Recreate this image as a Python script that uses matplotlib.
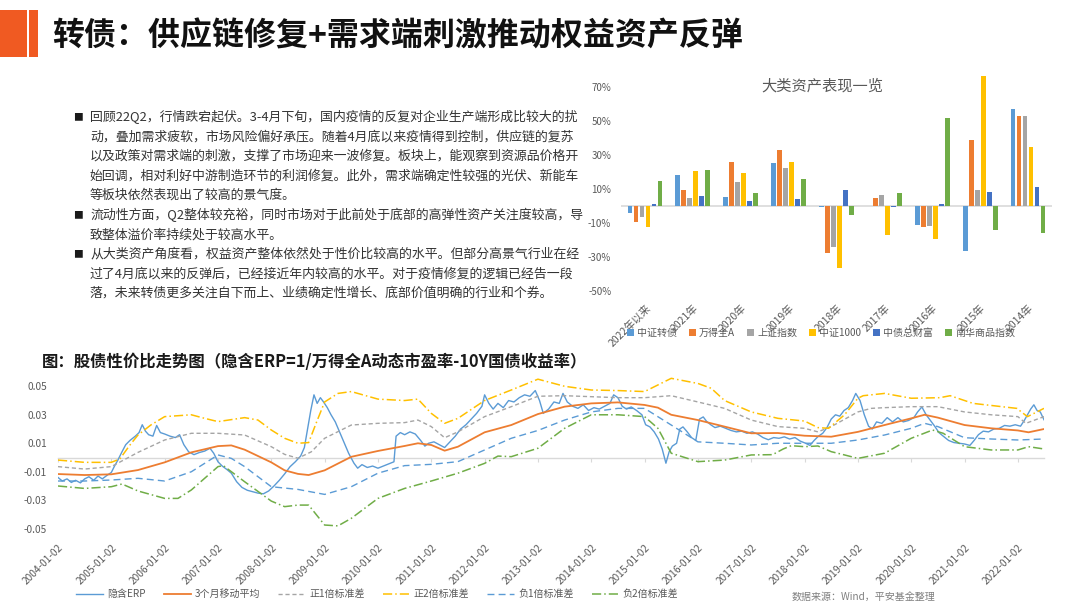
import numpy as np
import matplotlib
matplotlib.use("Agg")
import matplotlib.pyplot as plt
from matplotlib.patches import Rectangle
from matplotlib.lines import Line2D

plt.rcParams['font.family'] = ['Noto Sans CJK SC', 'DejaVu Sans']
plt.rcParams['axes.unicode_minus'] = False

W, H = 1080, 608

# ---------------- data: bar chart (returns, %) ----------------
years = ["2022年以来", "2021年", "2020年", "2019年", "2018年", "2017年", "2016年", "2015年", "2014年"]
assets = ["中证转债", "万得全A", "上证指数", "中证1000", "中债总财富", "南华商品指数"]
zz_cb = [-4.3, 18.2, 5.5, 25.3, -0.8, -0.2, -11.4, -26.5, 56.9]
wind_a = [-9.6, 9.6, 25.9, 32.9, -27.6, 4.9, -12.5, 38.6, 52.7]
sh_idx = [-6.5, 4.9, 14.1, 22.4, -24.1, 6.7, -12.0, 9.6, 52.7]
zz1000 = [-12.4, 20.6, 19.4, 25.9, -36.5, -17.1, -19.6, 76.3, 34.7]
cb_wealth = [1.4, 6.1, 3.1, 4.3, 9.6, -0.8, 1.4, 8.4, 11.4]
nh_comm = [14.7, 21.2, 7.6, 15.9, -5.5, 7.6, 51.6, -14.3, -16.1]
bar_colors = ["#5B9BD5", "#ED7D31", "#A5A5A5", "#FFC000", "#4472C4", "#70AD47"]
bar_ticks = [-50, -30, -10, 10, 30, 50, 70]

# ---------------- data: ERP chart (decimal year, value) ----------------
erp_t = [2004.00, 2004.08, 2004.17, 2004.25, 2004.33, 2004.42, 2004.50, 2004.58, 2004.67, 2004.75,
         2004.83, 2004.92, 2005.00, 2005.06, 2005.12, 2005.20, 2005.27, 2005.35, 2005.45, 2005.52,
         2005.58, 2005.64, 2005.70, 2005.78, 2005.85, 2005.92, 2006.00, 2006.10, 2006.20, 2006.28,
         2006.36, 2006.45, 2006.55, 2006.65, 2006.75, 2006.85, 2006.92, 2007.00, 2007.08, 2007.17,
         2007.25, 2007.35, 2007.45, 2007.55, 2007.65, 2007.75, 2007.85, 2007.95, 2008.05, 2008.15,
         2008.25, 2008.35, 2008.45, 2008.55, 2008.62, 2008.68, 2008.74, 2008.80, 2008.86, 2008.92,
         2008.98, 2009.05, 2009.12, 2009.20, 2009.28, 2009.36, 2009.45, 2009.55, 2009.62, 2009.70,
         2009.80, 2009.90, 2010.00, 2010.10, 2010.20, 2010.30, 2010.34, 2010.42, 2010.50, 2010.60,
         2010.70, 2010.80, 2010.88, 2010.95, 2011.05, 2011.15, 2011.25, 2011.35, 2011.45, 2011.55,
         2011.65, 2011.75, 2011.85, 2011.95, 2012.00, 2012.08, 2012.16, 2012.25, 2012.35, 2012.45,
         2012.55, 2012.65, 2012.75, 2012.85, 2012.95, 2013.03, 2013.10, 2013.20, 2013.30, 2013.40,
         2013.47, 2013.55, 2013.65, 2013.75, 2013.85, 2013.95, 2014.05, 2014.15, 2014.25, 2014.35,
         2014.42, 2014.50, 2014.58, 2014.66, 2014.75, 2014.85, 2014.95, 2015.02, 2015.10, 2015.18,
         2015.26, 2015.33, 2015.40, 2015.46, 2015.52, 2015.60, 2015.66, 2015.72, 2015.80, 2015.88,
         2015.96, 2016.03, 2016.10, 2016.16, 2016.24, 2016.32, 2016.42, 2016.52, 2016.62, 2016.72,
         2016.82, 2016.92, 2017.02, 2017.12, 2017.22, 2017.32, 2017.42, 2017.52, 2017.62, 2017.72,
         2017.82, 2017.92, 2018.02, 2018.10, 2018.18, 2018.26, 2018.34, 2018.42, 2018.50, 2018.58,
         2018.66, 2018.74, 2018.82, 2018.90, 2018.96, 2019.04, 2019.12, 2019.20, 2019.27, 2019.35,
         2019.45, 2019.55, 2019.65, 2019.75, 2019.85, 2019.95, 2020.05, 2020.12, 2020.20, 2020.28,
         2020.36, 2020.44, 2020.52, 2020.60, 2020.70, 2020.80, 2020.90, 2021.00, 2021.10, 2021.18,
         2021.26, 2021.35, 2021.45, 2021.55, 2021.65, 2021.75, 2021.85, 2021.95, 2022.05, 2022.12,
         2022.18, 2022.24, 2022.30, 2022.36, 2022.42, 2022.49]
erp_v = [-0.0140, -0.0165, -0.0150, -0.0175, -0.0160, -0.0178, -0.0150, -0.0135, -0.0160, -0.0130,
         -0.0150, -0.0125, -0.0105, -0.0060, -0.0020, 0.0040, 0.0090, 0.0120, 0.0150, 0.0175,
         0.0230, 0.0185, 0.0160, 0.0150, 0.0225, 0.0175, 0.0165, 0.0150, 0.0140, 0.0160,
         0.0090, 0.0040, 0.0020, 0.0035, 0.0045, 0.0065, 0.0030, -0.0030, -0.0060, -0.0085,
         -0.0110, -0.0170, -0.0210, -0.0230, -0.0240, -0.0250, -0.0255, -0.0235, -0.0200, -0.0160,
         -0.0115, -0.0065, -0.0030, 0.0010, 0.0070, 0.0200, 0.0330, 0.0440, 0.0380, 0.0420,
         0.0390, 0.0350, 0.0300, 0.0250, 0.0180, 0.0110, 0.0030, -0.0040, -0.0075, -0.0050,
         -0.0070, -0.0060, -0.0075, -0.0060, -0.0045, -0.0030, 0.0150, 0.0175, 0.0160, 0.0180,
         0.0165, 0.0120, 0.0080, 0.0100, 0.0110, 0.0090, 0.0070, 0.0110, 0.0150, 0.0200,
         0.0230, 0.0270, 0.0310, 0.0360, 0.0440, 0.0380, 0.0340, 0.0380, 0.0350, 0.0400,
         0.0390, 0.0420, 0.0440, 0.0430, 0.0470, 0.0400, 0.0310, 0.0340, 0.0390, 0.0380,
         0.0450, 0.0390, 0.0360, 0.0345, 0.0370, 0.0330, 0.0350, 0.0340, 0.0360, 0.0380,
         0.0440, 0.0420, 0.0360, 0.0340, 0.0355, 0.0330, 0.0300, 0.0230, 0.0215, 0.0180,
         0.0130, 0.0060, -0.0040, 0.0040, 0.0080, 0.0100, 0.0200, 0.0215, 0.0180, 0.0140,
         0.0120, 0.0270, 0.0285, 0.0255, 0.0230, 0.0210, 0.0220, 0.0205, 0.0190, 0.0180,
         0.0185, 0.0170, 0.0180, 0.0165, 0.0140, 0.0125, 0.0140, 0.0135, 0.0145, 0.0130,
         0.0140, 0.0115, 0.0100, 0.0085, 0.0120, 0.0150, 0.0170, 0.0210, 0.0270, 0.0300,
         0.0290, 0.0330, 0.0350, 0.0400, 0.0450, 0.0400, 0.0300, 0.0220, 0.0200, 0.0250,
         0.0240, 0.0280, 0.0250, 0.0280, 0.0250, 0.0260, 0.0280, 0.0320, 0.0355, 0.0300,
         0.0260, 0.0220, 0.0175, 0.0150, 0.0120, 0.0105, 0.0100, 0.0095, 0.0085, 0.0120,
         0.0160, 0.0185, 0.0180, 0.0200, 0.0205, 0.0225, 0.0220, 0.0230, 0.0220, 0.0260,
         0.0300, 0.0340, 0.0370, 0.0330, 0.0320, 0.0265]

avg_t = [2004.0, 2004.5, 2005.0, 2005.5, 2006.0, 2006.5, 2007.0, 2007.25, 2007.5, 2008.0, 2008.25,
         2008.5, 2008.7, 2009.0, 2009.5, 2010.0, 2010.5, 2010.75, 2011.0, 2011.25, 2011.5, 2012.0,
         2012.5, 2013.0, 2013.5, 2014.0, 2014.5, 2015.0, 2015.25, 2015.5, 2016.0, 2016.5, 2017.0,
         2017.5, 2018.0, 2018.5, 2019.0, 2019.5, 2020.0, 2020.25, 2020.5, 2021.0, 2021.5, 2022.0,
         2022.2, 2022.49]
avg_v = [-0.0116, -0.0123, -0.0118, -0.0088, -0.0034, 0.0036, 0.0080, 0.0085, 0.0055, -0.0034, -0.0090,
         -0.0115, -0.0123, -0.0090, 0.0005, 0.0046, 0.0081, 0.0100, 0.0088, 0.0048, 0.0076, 0.0177,
         0.0228, 0.0305, 0.0357, 0.0380, 0.0387, 0.0369, 0.0350, 0.0300, 0.0263, 0.0217, 0.0170,
         0.0172, 0.0153, 0.0146, 0.0180, 0.0228, 0.0275, 0.0300, 0.0280, 0.0228, 0.0205, 0.0190,
         0.0177, 0.0200]

up1_t = [2004.0, 2004.5, 2005.0, 2005.5, 2006.0, 2006.5, 2007.0, 2007.5, 2008.0, 2008.25, 2008.5,
         2008.75, 2009.0, 2009.5, 2010.0, 2010.5, 2010.75, 2011.0, 2011.25, 2011.5, 2012.0, 2012.5,
         2013.0, 2013.5, 2014.0, 2014.5, 2015.0, 2015.5, 2016.0, 2016.5, 2017.0, 2017.5, 2018.0,
         2018.25, 2018.5, 2019.0, 2019.25, 2019.5, 2020.0, 2020.5, 2021.0, 2021.5, 2022.0, 2022.15,
         2022.49]
up1_v = [-0.0064, -0.0081, -0.0064, 0.0036, 0.0123, 0.0170, 0.0170, 0.0158, 0.0076, 0.0022, -0.0005,
         0.0040, 0.0135, 0.0228, 0.0240, 0.0245, 0.0263, 0.0217, 0.0139, 0.0180, 0.0287, 0.0357,
         0.0430, 0.0434, 0.0427, 0.0420, 0.0420, 0.0434, 0.0390, 0.0345, 0.0263, 0.0217, 0.0205,
         0.0180, 0.0217, 0.0320, 0.0345, 0.0350, 0.0357, 0.0357, 0.0320, 0.0300, 0.0287, 0.0240,
         0.0287]

up2_t = [2004.0, 2004.5, 2005.0, 2005.16, 2005.35, 2005.5, 2005.74, 2006.0, 2006.5, 2006.75, 2007.0,
         2007.5, 2007.75, 2008.0, 2008.25, 2008.5, 2008.7, 2008.85, 2009.0, 2009.25, 2009.5, 2010.0,
         2010.5, 2010.75, 2011.0, 2011.25, 2011.5, 2012.0, 2012.5, 2013.0, 2013.5, 2014.0, 2014.5,
         2015.0, 2015.5, 2016.0, 2016.25, 2016.5, 2017.0, 2017.5, 2018.0, 2018.25, 2018.45, 2018.75,
         2019.0, 2019.1, 2019.5, 2020.0, 2020.54, 2020.73, 2021.16, 2021.98, 2022.18, 2022.49]
up2_v = [-0.0018, -0.0034, -0.0034, -0.0010, 0.0088, 0.0158, 0.0228, 0.0287, 0.0300, 0.0275, 0.0252,
         0.0280, 0.0263, 0.0193, 0.0135, 0.0100, 0.0105, 0.0250, 0.0390, 0.0450, 0.0463, 0.0410,
         0.0400, 0.0410, 0.0310, 0.0240, 0.0275, 0.0400, 0.0474, 0.0550, 0.0500, 0.0474, 0.0470,
         0.0463, 0.0556, 0.0520, 0.0486, 0.0400, 0.0320, 0.0275, 0.0256, 0.0210, 0.0205, 0.0300,
         0.0416, 0.0434, 0.0450, 0.0416, 0.0420, 0.0434, 0.0380, 0.0345, 0.0287, 0.0345]

dn1_t = [2004.0, 2004.5, 2005.0, 2005.5, 2006.0, 2006.5, 2007.0, 2007.25, 2007.5, 2008.0, 2008.5,
         2009.0, 2009.5, 2010.0, 2010.5, 2011.0, 2011.5, 2012.0, 2012.5, 2013.0, 2013.5, 2014.0,
         2014.5, 2015.0, 2015.5, 2016.0, 2016.5, 2017.0, 2017.5, 2018.0, 2018.5, 2019.0, 2019.5,
         2020.0, 2020.25, 2020.5, 2021.0, 2021.5, 2022.0, 2022.49]
dn1_v = [-0.0165, -0.0165, -0.0158, -0.0146, -0.0165, -0.0100, 0.0018, -0.0006, -0.0064, -0.0205, -0.0224,
         -0.0259, -0.0205, -0.0110, -0.0057, -0.0048, -0.0029, 0.0053, 0.0135, 0.0190, 0.0263, 0.0320,
         0.0345, 0.0345, 0.0228, 0.0110, 0.0100, 0.0088, 0.0100, 0.0100, 0.0100, 0.0123, 0.0158,
         0.0205, 0.0240, 0.0217, 0.0139, 0.0130, 0.0123, 0.0130]

dn2_t = [2004.0, 2004.5, 2005.0, 2005.2, 2005.5, 2006.0, 2006.25, 2006.5, 2007.0, 2007.1, 2007.5,
         2008.0, 2008.25, 2008.5, 2008.7, 2008.85, 2009.0, 2009.25, 2009.5, 2010.0, 2010.5, 2011.0,
         2011.5, 2012.0, 2012.25, 2012.5, 2013.0, 2013.5, 2014.0, 2014.5, 2015.0, 2015.25, 2015.5,
         2016.0, 2016.5, 2017.0, 2017.4, 2017.6, 2017.75, 2018.0, 2018.25, 2018.5, 2018.75, 2019.0,
         2019.5, 2020.0, 2020.4, 2020.6, 2021.0, 2021.5, 2022.0, 2022.2, 2022.49]
dn2_v = [-0.0200, -0.0217, -0.0205, -0.0186, -0.0235, -0.0287, -0.0287, -0.0228, -0.0064, -0.0057, -0.0170,
         -0.0306, -0.0345, -0.0334, -0.0334, -0.0404, -0.0474, -0.0480, -0.0427, -0.0287, -0.0217, -0.0165,
         -0.0110, -0.0041, 0.0010, 0.0006, 0.0065, 0.0205, 0.0300, 0.0300, 0.0287, 0.0205, 0.0030,
         -0.0029, -0.0018, 0.0018, 0.0020, 0.0060, 0.0083, 0.0076, 0.0081, 0.0041, 0.0018, -0.0006,
         0.0030, 0.0135, 0.0193, 0.0170, 0.0076, 0.0053, 0.0053, 0.0076, 0.0060]

line_names = ["隐含ERP", "3个月移动平均", "正1倍标准差", "正2倍标准差", "负1倍标准差", "负2倍标准差"]
date_ticks = list(range(2004, 2023))
date_labels = ["%d-01-02" % y for y in date_ticks]
erp_ticks = [-0.05, -0.03, -0.01, 0.01, 0.03, 0.05]

text_lines = [
    "回顾22Q2，行情跌宕起伏。3-4月下旬，国内疫情的反复对企业生产端形成比较大的扰",
    "动，叠加需求疲软，市场风险偏好承压。随着4月底以来疫情得到控制，供应链的复苏",
    "以及政策对需求端的刺激，支撑了市场迎来一波修复。板块上，能观察到资源品价格开",
    "始回调，相对利好中游制造环节的利润修复。此外，需求端确定性较强的光伏、新能车",
    "等板块依然表现出了较高的景气度。",
    "流动性方面，Q2整体较充裕，同时市场对于此前处于底部的高弹性资产关注度较高，导",
    "致整体溢价率持续处于较高水平。",
    "从大类资产角度看，权益资产整体依然处于性价比较高的水平。但部分高景气行业在经",
    "过了4月底以来的反弹后，已经接近年内较高的水平。对于疫情修复的逻辑已经告一段",
    "落，未来转债更多关注自下而上、业绩确定性增长、底部价值明确的行业和个券。",
]
bullet_rows = [0, 5, 7]


def fx(px):
    return px / W


def fy(py):
    return 1 - py / H


fig = plt.figure(figsize=(10.8, 6.08), dpi=100)

# header
fig.add_artist(Rectangle((0, fy(57)), fx(27), 47 / H, transform=fig.transFigure,
                         color="#F05A22", lw=0))
fig.add_artist(Rectangle((fx(29), fy(57)), fx(9), 47 / H, transform=fig.transFigure,
                         color="#F05A22", lw=0))
fig.text(fx(52), fy(37), "转债：供应链修复+需求端刺激推动权益资产反弹",
         fontsize=23, fontweight="bold", color="#111111", va="center", ha="left")

# bullet text
for i, line in enumerate(text_lines):
    y = fy(117 + i * 19.6)
    if i in bullet_rows:
        fig.text(fx(73), y, "■", fontsize=7, color="#1a1a1a", va="center")
    fig.text(fx(90), y, line, fontsize=9.3, color="#333333", va="center")

# ---------------- bar chart ----------------
ax1 = fig.add_axes([fx(621), fy(303), fx(1052 - 621), (303 - 70) / H])
x = np.arange(len(years))
series = [zz_cb, wind_a, sh_idx, zz1000, cb_wealth, nh_comm]
for i, vals in enumerate(series):
    ax1.bar(x + (i - 2.5) * 0.125, vals, width=0.1, color=bar_colors[i], label=assets[i], zorder=2)
ax1.axhline(0, color="#D9D9D9", lw=1.2, zorder=1)
ax1.set_xlim(-0.5, len(years) - 0.5)
ax1.set_ylim(-57, 80)
ax1.set_yticks(bar_ticks)
ax1.set_yticklabels(["%d%%" % v for v in bar_ticks])
ax1.set_xticks(x)
ax1.set_xticklabels(years, rotation=45, ha="right", va="top", rotation_mode="anchor")
ax1.tick_params(axis="y", length=0, pad=7, labelsize=7, labelcolor="#595959")
ax1.tick_params(axis="x", length=0, pad=0, labelsize=7.5, labelcolor="#595959")
for s in ax1.spines.values():
    s.set_visible(False)
fig.text(fx(822), fy(86), "大类资产表现一览", fontsize=11, color="#595959", ha="center", va="center")
fig.legend(*ax1.get_legend_handles_labels(), loc="center left", bbox_to_anchor=(fx(627), fy(333)),
           ncol=6, frameon=False, fontsize=7.2, handlelength=0.7, handleheight=0.7,
           handletextpad=0.3, columnspacing=1.2, borderpad=0, borderaxespad=0, labelcolor="#595959")

# ---------------- ERP chart ----------------
fig.text(fx(42), fy(362), "图：股债性价比走势图（隐含ERP=1/万得全A动态市盈率-10Y国债收益率）",
         fontsize=11.8, fontweight="bold", color="#1a1a1a", va="center")

ax2 = fig.add_axes([fx(58), fy(538.7), fx(1044 - 58), (538.7 - 374.9) / H])
styles = [
    dict(color="#5B9BD5", lw=1.0, ls="-"),
    dict(color="#ED7D31", lw=1.3, ls="-"),
    dict(color="#A5A5A5", lw=1.0, ls=(0, (3, 2))),
    dict(color="#FFC000", lw=1.1, ls=(0, (6, 2, 1, 2))),
    dict(color="#5B9BD5", lw=1.0, ls=(0, (5, 3))),
    dict(color="#70AD47", lw=1.1, ls=(0, (6, 2, 1, 2))),
]
data = [(erp_t, erp_v), (avg_t, avg_v), (up1_t, up1_v), (up2_t, up2_v), (dn1_t, dn1_v), (dn2_t, dn2_v)]
for (t, v), st in zip(data, styles):
    ax2.plot(t, v, **st)

ax2.set_xlim(2004.0, 2022.49)
ax2.set_ylim(-0.057, 0.058)
for k in ["top", "right", "left"]:
    ax2.spines[k].set_visible(False)
ax2.spines["bottom"].set_position(("data", 0))
ax2.spines["bottom"].set_color("#D9D9D9")
ax2.spines["bottom"].set_linewidth(1.0)
ax2.spines["bottom"].set_zorder(0)
ax2.set_xticks(date_ticks)
ax2.set_xticklabels(date_labels, rotation=45, ha="right", va="top", rotation_mode="anchor")
ax2.tick_params(axis="x", length=3, color="#D9D9D9", pad=58.5, labelsize=7.3, labelcolor="#595959")
ax2.set_yticks(erp_ticks)
ax2.set_yticklabels(["%.2f" % v for v in erp_ticks])
ax2.tick_params(axis="y", length=0, pad=8, labelsize=7.3, labelcolor="#595959")

handles = [Line2D([], [], **st) for st in styles]
fig.legend(handles, line_names, loc="center left", bbox_to_anchor=(fx(76), fy(594)), ncol=6,
           frameon=False, fontsize=7.2, handlelength=2.7, handletextpad=0.4, columnspacing=1.8,
           borderpad=0, borderaxespad=0, labelcolor="#595959")
fig.text(fx(792), fy(598), "数据来源：Wind，平安基金整理", fontsize=7.2, color="#7F7F7F", va="center")

fig.savefig("out.png", dpi=100)
